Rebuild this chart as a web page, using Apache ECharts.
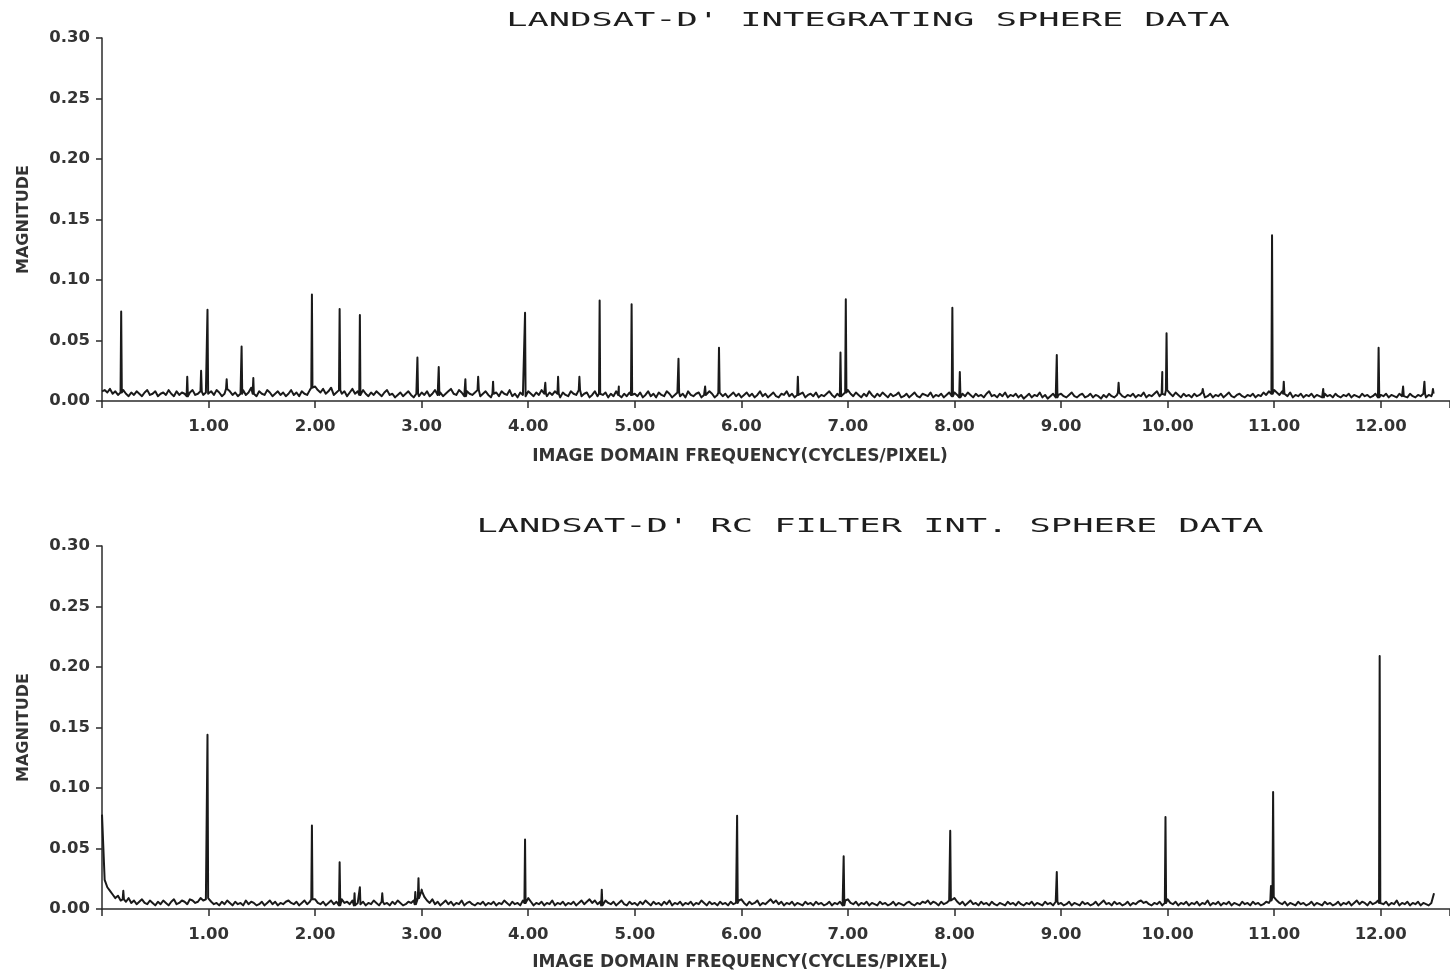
<!DOCTYPE html>
<html>
<head>
<meta charset="utf-8">
<script src="https://cdn.jsdelivr.net/npm/echarts@6/dist/echarts.min.js"></script>
<style>html,body{margin:0;padding:0;background:#fff;}#chart{width:1450px;height:972px;}</style>
</head>
<body>
<div id="chart"></div>
<script>
// ---- data ----
const titles = ["LANDSAT-D' INTEGRATING SPHERE DATA", "LANDSAT-D' RC FILTER INT. SPHERE DATA"];
const xAxisName = 'IMAGE DOMAIN FREQUENCY(CYCLES/PIXEL)';
const yAxisName = 'MAGNITUDE';
const xTickLabels = ['1.00','2.00','3.00','4.00','5.00','6.00','7.00','8.00','9.00','10.00','11.00','12.00'];
const yTickLabels = ['0.00','0.05','0.10','0.15','0.20','0.25','0.30'];
const X_STEP = 0.025; // frequency spacing of the noise-floor samples
// noise floor, in thousandths of magnitude, one row per unit of frequency
const topNoise = [
8,9,7,10,6,8,5,7,9,6, 4,7,5,8,6,4,7,9,5,6, 8,4,6,7,5,9,6,4,8,5, 7,6,4,7,9,5,6,8,5,7,
6,8,5,9,7,4,6,10,8,5, 7,4,6,9,5,7,11,6,4,8, 6,5,9,7,4,6,8,5,7,4, 6,9,5,7,4,8,6,5,9,11,
12,9,7,10,6,8,11,5,7,9, 6,8,4,7,10,6,8,5,9,6, 4,7,5,8,6,4,7,9,5,6, 3,5,7,4,6,8,5,3,6,4,
7,5,8,4,6,9,5,7,4,6, 8,10,6,5,9,7,4,8,6,5, 7,9,4,6,8,5,3,6,7,4, 8,6,5,9,4,6,3,7,5,4,
8,6,4,7,5,9,6,4,7,5, 8,6,3,7,5,4,8,6,5,9, 4,6,7,3,5,8,4,6,5,7, 3,6,4,8,5,3,6,4,7,5,
6,4,7,3,5,8,4,6,3,7, 5,4,8,6,3,5,7,4,6,3, 8,5,4,6,7,3,5,4,8,6, 3,5,7,4,6,3,5,7,4,6,
3,5,7,4,6,3,5,8,4,6, 3,5,7,4,3,6,5,8,4,6, 3,5,4,7,3,5,6,4,7,3, 5,4,6,8,5,3,6,4,5,7,
9,6,4,7,5,3,6,4,8,5, 3,6,4,7,5,3,6,4,5,7, 3,4,6,3,5,7,4,3,6,5, 4,7,3,5,4,6,3,5,7,4,
7,5,3,6,4,7,5,3,6,4, 5,3,6,8,4,5,3,6,4,7, 3,5,4,6,3,5,2,4,6,3, 5,4,7,3,5,2,4,6,3,5,
6,4,3,5,7,4,3,5,6,3, 4,6,3,5,4,2,5,3,6,4, 3,5,7,4,3,5,4,6,3,5, 4,7,3,5,4,6,8,4,6,5,
9,6,4,7,5,3,6,4,5,3, 6,4,5,7,3,4,6,3,5,4, 6,3,5,7,4,3,5,6,4,3, 5,4,6,3,5,4,7,5,8,6,
9,7,5,8,6,4,7,3,5,4, 6,3,5,4,6,3,5,4,3,6, 4,5,3,6,4,3,5,4,6,3, 5,4,3,6,4,5,3,4,6,3,
5,4,6,3,5,4,3,6,4,5, 3,6,4,3,5,4,6,3,5,4, 6
];
// [frequency, peak magnitude]
const topSpikes = [
[0.18,0.074],[0.80,0.020],[0.93,0.025],[0.99,0.0755],[1.17,0.018],[1.31,0.045],[1.42,0.019],
[1.97,0.088],[2.23,0.076],[2.42,0.071],[2.96,0.036],[3.16,0.028],[3.41,0.018],[3.53,0.020],
[3.67,0.016],[3.97,0.073],[4.16,0.015],[4.28,0.020],[4.48,0.020],[4.67,0.083],[4.85,0.012],
[4.97,0.080],[5.41,0.035],[5.66,0.012],[5.79,0.044],[6.53,0.020],[6.93,0.040],[6.98,0.084],
[7.98,0.077],[8.05,0.024],[8.96,0.038],[9.54,0.015],[9.95,0.024],[9.99,0.056],[10.33,0.010],
[10.98,0.137],[11.09,0.016],[11.46,0.010],[11.98,0.044],[12.21,0.012],[12.41,0.016],[12.49,0.010]
];
const bottomNoise = [
78,24,18,15,12,9,11,7,8,6, 9,5,7,4,6,8,5,4,7,5, 3,6,4,7,5,3,6,8,4,5, 7,6,4,8,7,5,6,9,7,8,
9,6,4,5,3,6,4,7,5,3, 6,4,5,3,7,4,6,5,3,4, 6,3,5,7,4,6,3,5,4,6, 7,5,4,6,3,5,7,4,6,8,
8,5,4,6,3,5,7,4,6,3, 8,5,6,4,7,3,5,4,6,3, 5,4,7,5,3,6,4,5,3,6, 4,7,5,3,4,6,5,7,4,9,
14,10,7,5,8,4,6,3,5,7, 4,6,3,5,4,7,3,5,6,4, 3,5,4,6,3,5,4,6,3,5, 4,7,5,3,6,4,5,3,7,5,
9,6,3,5,4,6,3,5,4,7, 3,5,4,6,3,5,4,6,3,5, 7,4,6,8,5,7,4,6,3,7, 5,4,6,3,5,7,4,3,6,4,
5,3,6,4,7,5,3,6,4,5, 3,6,4,7,3,5,4,6,3,5, 4,6,3,5,4,7,5,3,6,4, 5,3,6,4,5,3,6,4,5,7,
8,5,3,6,4,5,7,3,5,4, 6,8,5,7,4,6,3,5,4,6, 3,5,4,3,6,4,5,3,6,4, 5,3,4,6,3,5,4,6,3,7,
8,5,4,6,3,5,4,6,3,5, 4,3,6,4,5,3,4,6,3,5, 4,3,5,6,4,3,5,4,6,5, 7,4,6,5,3,6,4,5,7,6,
9,6,4,6,3,5,7,4,5,3, 6,4,5,3,6,4,3,5,4,3, 6,4,5,3,6,4,3,5,4,6, 3,5,4,3,6,4,5,3,6,4,
5,3,4,6,3,5,4,3,6,4, 5,3,4,6,3,5,7,4,5,3, 6,4,5,3,4,6,3,5,4,6, 7,5,6,4,3,5,4,6,3,5,
8,5,4,6,3,5,4,6,3,5, 4,6,3,5,4,7,3,5,4,6, 3,5,4,6,3,5,4,3,6,4, 5,3,6,4,5,3,4,6,5,7,
10,7,5,4,6,3,5,4,3,6, 4,5,3,4,6,3,5,4,3,6, 4,5,3,4,6,3,5,4,6,3, 5,7,4,6,5,3,6,4,5,7,
5,4,6,3,5,4,7,3,5,4, 6,3,5,4,6,3,5,4,3,5, 13
];
const bottomSpikes = [
[0.20,0.015],[0.99,0.144],[1.97,0.069],[2.23,0.0386],[2.37,0.013],[2.42,0.018],[2.63,0.013],
[2.94,0.014],[2.97,0.0255],[3.00,0.016],[3.97,0.0575],[4.69,0.016],[5.96,0.077],[6.96,0.0436],
[7.96,0.0647],[8.96,0.0305],[9.98,0.076],[10.97,0.019],[10.99,0.0967],[11.99,0.209]
];

// ---- build line data from noise floor + spikes ----
function buildLine(noise, spikes) {
  const pts = noise.map((v, i) => [i * X_STEP, v / 1000]);
  spikes.forEach(([x, p]) => {
    const b = noise[Math.round(x / X_STEP)] / 1000;
    pts.push([x - 0.006, b], [x, p], [x + 0.006, b]);
  });
  pts.sort((a, b) => a[0] - b[0]);
  return pts;
}

const AX = '#2b2b2b';
const labelFont = {fontFamily: 'DejaVu Sans', fontWeight: 'bold', fontSize: 16.5, color: '#333'};

function xAxisOf(i) {
  return {
    gridIndex: i, type: 'value', min: 0, max: 12.65, interval: 1,
    name: xAxisName, nameLocation: 'middle', nameGap: i === 0 ? 47 : 45,
    nameTextStyle: {fontFamily: 'DejaVu Sans', fontWeight: 'bold', fontSize: 17, color: '#333', padding: [0, 72, 0, 0]},
    axisLine: {show: true, lineStyle: {color: AX, width: 1.5}},
    axisTick: {show: true, length: 7, lineStyle: {color: AX, width: 1.5}},
    axisLabel: Object.assign({margin: 17, formatter: v => {
      const k = Math.round(v);
      return (Math.abs(v - k) < 1e-6 && k >= 1 && k <= xTickLabels.length) ? xTickLabels[k - 1] : '';
    }}, labelFont),
    splitLine: {show: false}
  };
}
function yAxisOf(i) {
  return {
    gridIndex: i, type: 'value', min: 0, max: 0.30, interval: 0.05,
    name: yAxisName, nameLocation: 'middle', nameGap: 70,
    nameTextStyle: {fontFamily: 'DejaVu Sans', fontWeight: 'bold', fontSize: 16, color: '#333'},
    axisLine: {show: true, lineStyle: {color: AX, width: 1.5}},
    axisTick: {show: true, length: 6, lineStyle: {color: AX, width: 1.5}},
    axisLabel: Object.assign({margin: 12, formatter: v => yTickLabels[Math.round(v / 0.05)] || ''}, labelFont),
    splitLine: {show: false}
  };
}
function lineSeries(i, data) {
  return {
    type: 'line', xAxisIndex: i, yAxisIndex: i, data: data,
    showSymbol: false, symbol: 'none', sampling: null, smooth: false,
    lineStyle: {color: '#1a1a1a', width: 2, join: 'round'}, animation: false, silent: true
  };
}
function titleText(text, x, y) {
  return {
    type: 'text', x: x, y: y, scaleX: 1.86, scaleY: 1,
    style: {text: text, fontFamily: 'DejaVu Sans Mono', fontSize: 19, fill: '#1e1e1e',
            textAlign: 'center', textVerticalAlign: 'middle'}
  };
}

const chart = echarts.init(document.getElementById('chart'), null, {renderer: 'canvas'});
chart.setOption({
  backgroundColor: '#ffffff',
  animation: false,
  grid: [
    {left: 102, right: 0, top: 38, height: 363, containLabel: false, outerBoundsMode: 'none'},
    {left: 102, right: 0, top: 546, height: 363, containLabel: false, outerBoundsMode: 'none'}
  ],
  xAxis: [xAxisOf(0), xAxisOf(1)],
  yAxis: [yAxisOf(0), yAxisOf(1)],
  series: [lineSeries(0, buildLine(topNoise, topSpikes)), lineSeries(1, buildLine(bottomNoise, bottomSpikes))],
  graphic: [titleText(titles[0], 868, 21), titleText(titles[1], 870, 527)]
});
</script>
</body>
</html>
